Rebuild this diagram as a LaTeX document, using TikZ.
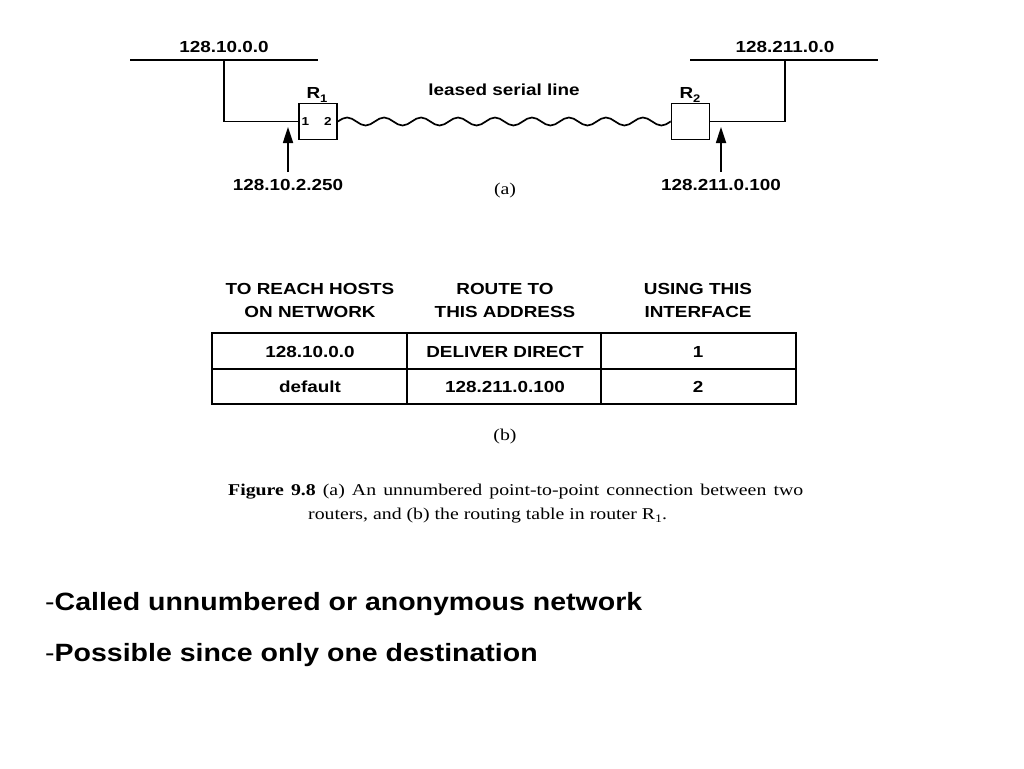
\documentclass[tikz,border=0pt]{standalone}
\usepackage{fontspec}
\usetikzlibrary{arrows.meta}
\newfontfamily\lsans[FakeStretch=1.18]{Liberation Sans}
\newfontfamily\bsans[FakeStretch=1.14]{Liberation Sans}
\newfontfamily\lserif[FakeStretch=1.2]{Liberation Serif}
\tikzset{
  lbl/.style={inner sep=0pt, font=\lsans\bfseries\fontsize{16}{19}\selectfont},
  smalllbl/.style={inner sep=0pt, anchor=base, font=\lsans\bfseries\fontsize{11.5}{13}\selectfont},
  hdr/.style={inner sep=0pt, align=center, font=\lsans\bfseries\fontsize{16}{23}\selectfont},
  captext/.style={inner sep=0pt, font=\lserif\fontsize{16.5}{19}\selectfont},
  bullettext/.style={inner sep=0pt, anchor=west, font=\bsans\fontsize{25}{29}\selectfont},
  router/.style={draw, line width=1.7pt, minimum width=38pt, minimum height=36pt, inner sep=0pt},
  net/.style={line width=2.3pt},
  wire/.style={line width=1.7pt},
  tbl/.style={line width=1.7pt},
  ptr/.style={line width=1.7pt, -{Triangle[length=16pt,width=10pt]}},
}
\begin{document}
\begin{tikzpicture}[x=1pt,y=-1pt]
\useasboundingbox (0,0) rectangle (1024,768);
% (a) diagram
\node[router] (r1) at (318,121.5) {};
\node[router] (r2) at (690.5,121.5) {};
\node[lbl] (r1l) at (317,95) {R\raisebox{-0.45ex}{\fontsize{11}{11}\selectfont 1}};
\node[lbl] (r2l) at (690,95) {R\raisebox{-0.45ex}{\fontsize{11}{11}\selectfont 2}};
\node[smalllbl] (if1) at (305.5,125.5) {1};
\node[smalllbl] (if2) at (328,125.5) {2};

\coordinate (n1a) at (130,60);
\coordinate (n1b) at (318,60);
\coordinate (t1) at (224,60);
\draw[net] (n1a) -- (n1b);
\node[lbl] (n1l) at (224,47) {128.10.0.0};
\draw[wire] (t1) |- (r1.west);

\coordinate (n2a) at (690,60);
\coordinate (n2b) at (878,60);
\coordinate (t2) at (785,60);
\draw[net] (n2a) -- (n2b);
\node[lbl] (n2l) at (785,47) {128.211.0.0};
\draw[wire] (t2) |- (r2.east);

% leased serial line (sine wave from R1 to R2)
\draw[wire] (r1.east) foreach \i in {1,...,9} {
  sin ++(9.244,-4) cos ++(9.244,4) sin ++(9.244,4) cos ++(9.244,-4)
} -- (r2.west);
\node[lbl] (lsl) at (504,90) {leased serial line};

\node[lbl] (a1l) at (288,185) {128.10.2.250};
\coordinate (a1t) at (288,127);
\coordinate (a1s) at (288,172);
\draw[ptr] (a1s) -- (a1t);
\node[lbl] (a2l) at (721,185) {128.211.0.100};
\coordinate (a2t) at (721,127);
\coordinate (a2s) at (721,172);
\draw[ptr] (a2s) -- (a2t);

\node[captext] (capa) at (505,191) {(a)};

% (b) table
\node[hdr] (h1) at (310,300.5) {TO REACH HOSTS\\ON NETWORK};
\node[hdr] (h2) at (505,300.5) {ROUTE TO\\THIS ADDRESS};
\node[hdr] (h3) at (698,300.5) {USING THIS\\INTERFACE};
\coordinate (tl) at (212,333);
\coordinate (br) at (796,404);
\draw[tbl] (tl) rectangle (br);
\draw[tbl] (212,369) -- (796,369);
\draw[tbl] (407,333) -- (407,404);
\draw[tbl] (601,333) -- (601,404);
\node[lbl] (c11) at (310,352) {128.10.0.0};
\node[lbl] (c12) at (505,352) {DELIVER DIRECT};
\node[lbl] (c13) at (698,352) {1};
\node[lbl] (c21) at (310,387) {default};
\node[lbl] (c22) at (505,387) {128.211.0.100};
\node[lbl] (c23) at (698,387) {2};
\node[captext] (capb) at (505,437) {(b)};

% caption
\node[captext, anchor=west] (fig1) at (228,492) {\makebox[575pt][s]{\textbf{Figure 9.8} (a) An unnumbered point-to-point connection between two}};
\node[captext, anchor=west] (fig2) at (308,516) {routers, and (b) the routing table in router R\raisebox{-0.4ex}{\fontsize{11.5}{11.5}\selectfont 1}.};

% bullets
\node[bullettext] (b1) at (45,604) {-\textbf{Called unnumbered or anonymous network}};
\node[bullettext] (b2) at (45,655) {-\textbf{Possible since only one destination}};
\end{tikzpicture}
\end{document}
